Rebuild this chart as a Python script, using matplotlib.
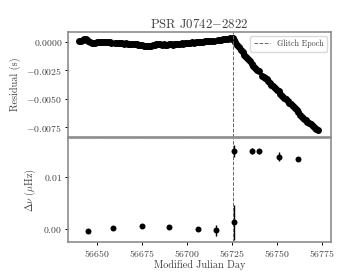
"""
Timing residuals and frequency offsets around the 2014 glitch of PSR J0742-2822
"""
import matplotlib
matplotlib.use("Agg")
import matplotlib.pyplot as plt
from matplotlib.ticker import FuncFormatter

plt.rcParams["font.family"] = "cmr10"
plt.rcParams["mathtext.fontset"] = "cm"
plt.rcParams["axes.formatter.use_mathtext"] = True
plt.rcParams["text.color"] = "0.25"
plt.rcParams["axes.labelcolor"] = "0.25"
plt.rcParams["xtick.labelcolor"] = "0.25"
plt.rcParams["ytick.labelcolor"] = "0.25"

# residuals (MJD, units of 1e-4 s)
res_mjd = [
    56640, 56641, 56642, 56643, 56643.7, 56644.5, 56645.3, 56646, 56647, 56648,
    56649, 56650, 56651, 56652, 56653, 56654, 56655, 56656, 56657, 56658,
    56660, 56661, 56662, 56663, 56664, 56665, 56666, 56667, 56668, 56669,
    56670, 56671, 56672, 56673, 56674, 56675, 56676, 56677, 56678, 56679,
    56680, 56681, 56682, 56683, 56684, 56685, 56686, 56687, 56688, 56689,
    56690, 56691, 56692, 56693, 56694, 56695, 56696, 56697, 56698, 56699,
    56700, 56701, 56702, 56703, 56704, 56705, 56706, 56707, 56708, 56709,
    56710, 56711, 56712, 56713, 56714, 56715,
    56717.5, 56718.3, 56719, 56720, 56721, 56722, 56723, 56724, 56725, 56725.6,
    56726.3, 56727, 56728, 56729, 56730, 56731, 56732, 56733, 56734, 56735,
    56736, 56737, 56738, 56739, 56739.8,
    56742, 56742.8, 56743.5, 56744.3, 56745, 56746, 56747, 56748, 56749, 56750,
    56751, 56752, 56753, 56754, 56755, 56756, 56757, 56758, 56759, 56760,
    56761, 56762, 56763, 56764, 56765, 56766, 56767, 56768, 56769, 56770,
    56771, 56772, 56773,
]
res_val = [
    0.5, 1.0, 2.0, 3.0, 2.5, 2.0, 1.0, 0.0, -1.0, -0.8,
    -0.5, -0.2, 0.0, 0.2, 0.1, 0.0, -0.2, -0.1, -0.4, -0.5,
    -1.0, -0.8, -1.2, -0.9, -1.0, -1.5, -1.2, -1.6, -1.9, -1.5,
    -1.8, -2.2, -2.0, -2.6, -2.8, -3.0, -3.3, -3.6, -3.9, -3.5,
    -3.2, -3.0, -2.6, -2.2, -1.8, -2.0, -2.4, -2.0, -2.3, -2.5,
    -2.2, -2.0, -2.4, -1.9, -1.6, -1.8, -1.5, -1.2, -1.4, -1.0,
    -0.8, -1.0, -0.6, -0.4, -0.6, -0.2, 0.0, 0.2, -0.1, 0.3,
    0.5, 0.6, 0.9, 1.0, 1.2, 1.0,
    1.6, 2.0, 1.8, 2.4, 2.2, 2.6, 2.8, 3.2, 2.9, 3.4,
    1.5, 0.0, -2.5, -4.5, -7.0, -9.0, -11.5, -13.0, -15.0, -17.0,
    -19.5, -21.5, -23.0, -24.5, -25.5,
    -30.0, -31.0, -32.0, -33.0, -34.5, -36.0, -37.5, -39.0, -40.5, -42.0,
    -43.5, -45.5, -47.5, -49.0, -50.5, -52.0, -53.5, -55.0, -56.5, -58.0,
    -60.0, -62.0, -64.0, -66.0, -67.5, -69.0, -70.0, -71.5, -72.5, -74.0,
    -75.5, -76.5, -77.5,
]

# frequency offsets (uHz)
dnu_mjd = [56645, 56659, 56675, 56690, 56706, 56716, 56726, 56726, 56736, 56740, 56751, 56762]
dnu_val = [-0.0004, 0.0001, 0.0005, 0.0003, -0.0001, -0.0003, 0.0012, 0.0150, 0.0150, 0.0149, 0.0139, 0.0135]
dnu_err = [0.0002, 0.0002, 0.0002, 0.0002, 0.0002, 0.0011, 0.0033, 0.0012, 0.0005, 0.0005, 0.0008, 0.0002]

glitch_mjd = 56725.8

fig, (ax1, ax2) = plt.subplots(2, 1, figsize=(3.52, 2.73), dpi=100, sharex=True)
fig.subplots_adjust(left=0.193, right=0.94, top=0.883, bottom=0.112, hspace=0.01)

ax1.plot(res_mjd, [v * 1e-4 for v in res_val], "o", color="black", ms=5.0, mew=0)
ax1.axvline(glitch_mjd, color="0.4", ls="--", lw=0.7, label="Glitch Epoch")
ax1.set_ylim(-0.00833, 0.00088)
ax1.set_yticks([0.0, -0.0025, -0.0050, -0.0075])
ax1.yaxis.set_major_formatter(FuncFormatter(lambda v, p: f"${v:.4f}$"))
ax1.set_ylabel("Residual (s)", fontsize=7.3)
ax1.set_title(r"PSR J0742$-$2822", fontsize=9.2, pad=3)
leg = ax1.legend(loc="upper right", fontsize=5.8, handlelength=2, framealpha=1,
                 edgecolor="0.85", borderpad=0.45)

ax2.errorbar(dnu_mjd, dnu_val, yerr=dnu_err, fmt="o", color="black", ms=4.3,
             mew=0, elinewidth=1.0, capsize=0)
ax2.axvline(glitch_mjd, color="0.4", ls="--", lw=0.7)
ax2.set_ylim(-0.00265, 0.01755)
ax2.set_yticks([0.0, 0.01])
ax2.yaxis.set_major_formatter(FuncFormatter(lambda v, p: f"${v:.2f}$"))
ax2.set_ylabel(r"$\Delta\nu$ ($\mu$Hz)", fontsize=7.3)
ax2.set_xlim(56633.9, 56780)
ax2.set_xticks([56650, 56675, 56700, 56725, 56750, 56775])
ax2.xaxis.set_major_formatter(FuncFormatter(lambda v, p: f"${int(v)}$"))
ax2.set_xlabel("Modified Julian Day", fontsize=7.3, labelpad=1)

for ax in (ax1, ax2):
    for s in ax.spines.values():
        s.set_color("0.55")
        s.set_linewidth(1.2)
    ax.tick_params(labelsize=7.0, length=2.5, width=0.7, pad=1.5)

plt.savefig("out.png", dpi=100)
